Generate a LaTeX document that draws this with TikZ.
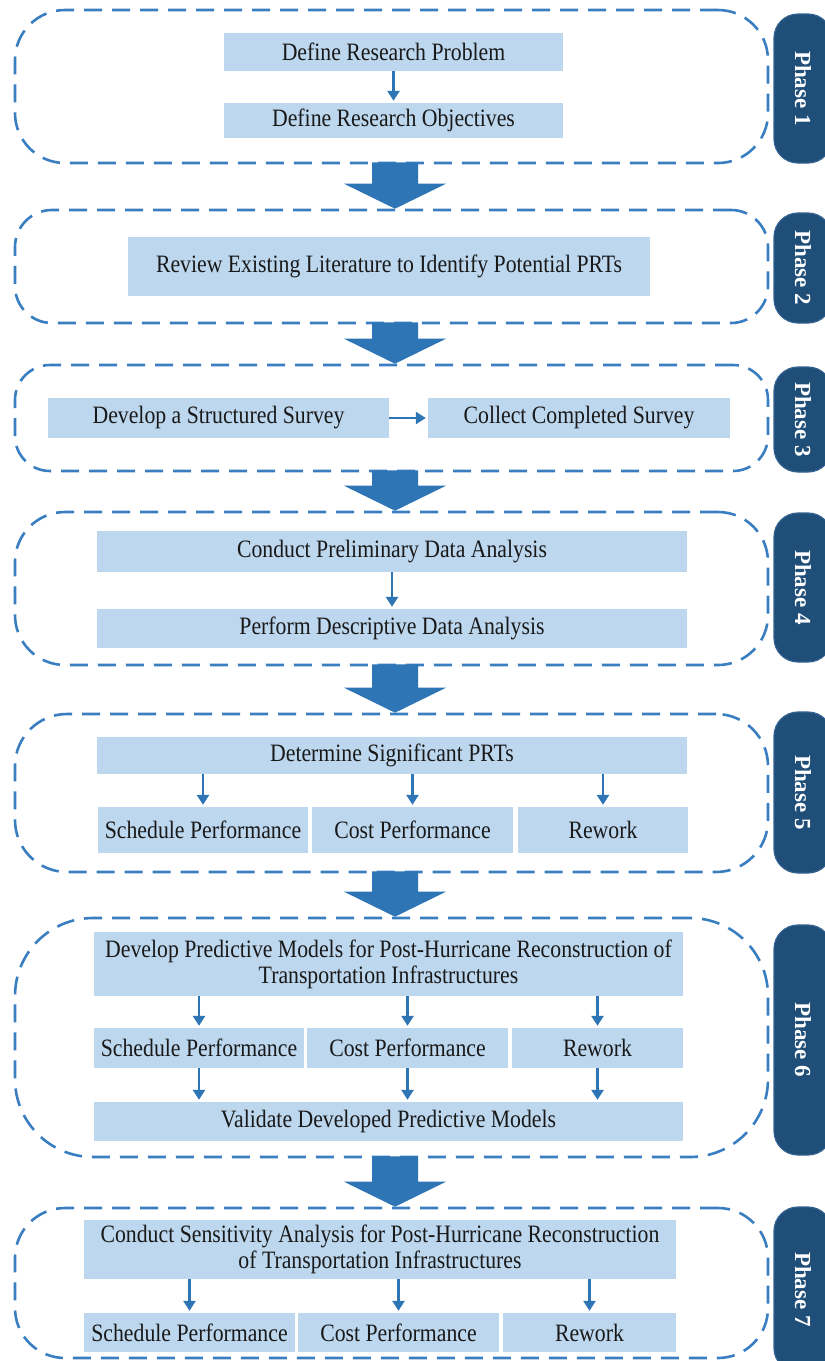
\documentclass[tikz,border=0pt]{standalone}
\usepackage{fontspec}
\setmainfont{Liberation Serif}[FakeStretch=0.87]
\newfontfamily\tabfont{Liberation Serif}
\usetikzlibrary{calc,arrows.meta}

\definecolor{boxblue}{RGB}{189,215,238}
\definecolor{arrowblue}{RGB}{46,117,182}
\definecolor{dashblue}{RGB}{58,126,194}
\definecolor{tabblue}{RGB}{31,78,121}
\definecolor{tabedge}{RGB}{52,98,145}
\definecolor{inktext}{RGB}{25,25,25}

% process step: name, x1, y1, x2, y2, text
\newcommand\stepat[6]{%
  \node[stepbox, minimum width={#4-#2}, minimum height={#5-#3}] (#1)
    at ({(#2+#4)/2},{(#3+#5)/2}) {#6};}
% dashed phase frame: name, x1, y1, x2, y2, corner radius
\newcommand\phaseframe[6]{%
  \node[framebox, rounded corners=#6pt, minimum width={#4-#2}, minimum height={#5-#3}] (#1)
    at ({(#2+#4)/2},{(#3+#5)/2}) {};}
% phase label tab: name, y1, y2, text
\newcommand\phaselabel[4]{%
  \node[tabbox, minimum width={#3-#2}, minimum height=58] (#1)
    at (803,{(#2+#3)/2}) {#4};}
% thick block arrow between two phase frames
\newcommand\blockarrow[2]{%
  \fill[arrowblue] let \p1=(#1.south -| ax), \p2=(#2.north -| ax) in
    (\x1-23pt,\y1+2pt) -- (\x1+23pt,\y1+2pt) -- (\x1+23pt,\y2+25pt)
    -- (\x1+51pt,\y2+25pt) -- (\x1,\y2) -- (\x1-51pt,\y2+25pt)
    -- (\x1-23pt,\y2+25pt) -- cycle;}

\begin{document}
\begin{tikzpicture}[x=1pt,y=-1pt,
  stepbox/.style={fill=boxblue, inner sep=0pt, align=center, text=inktext,
    font=\fontsize{25}{26}\selectfont},
  framebox/.style={draw=dashblue, line width=2.6pt, dash pattern=on 18pt off 10pt,
    inner sep=0pt},
  tabbox/.style={fill=tabblue, draw=tabedge, line width=1.2pt, rounded corners=24pt,
    rotate=-90, inner sep=0pt, text=white,
    font=\tabfont\bfseries\fontsize{23}{23}\selectfont},
  flow/.style={draw=arrowblue, line width=2.6pt, shorten >=2pt,
    -{Triangle[length=10pt,width=12pt]}},
]
\fill[white] (0,0) rectangle (825,1361);
\useasboundingbox (0,0) rectangle (825,1361);
\clip (0,0) rectangle (825,1361);
\coordinate (ax) at (395,0);

% phase frames
\phaseframe{f1}{15}{10}{768}{163}{50}
\phaseframe{f2}{15}{210}{768}{323}{37}
\phaseframe{f3}{15}{365}{768}{471}{35}
\phaseframe{f4}{15}{512}{768}{665}{50}
\phaseframe{f5}{15}{714}{768}{872}{52}
\phaseframe{f6}{15}{918}{768}{1157}{78}
\phaseframe{f7}{15}{1208}{768}{1358}{50}

% phase tabs
\phaselabel{t1}{14}{163}{Phase 1}
\phaselabel{t2}{213}{323}{Phase 2}
\phaselabel{t3}{367}{472}{Phase 3}
\phaselabel{t4}{513}{662}{Phase 4}
\phaselabel{t5}{712}{873}{Phase 5}
\phaselabel{t6}{925}{1155}{Phase 6}
\phaselabel{t7}{1207}{1372}{Phase 7}

% block arrows between phases
\blockarrow{f1}{f2}
\blockarrow{f2}{f3}
\blockarrow{f3}{f4}
\blockarrow{f4}{f5}
\blockarrow{f5}{f6}
\blockarrow{f6}{f7}

% phase 1
\stepat{p1a}{224}{33}{563}{71}{Define Research Problem}
\stepat{p1b}{224}{103}{563}{138}{Define Research Objectives}
\draw[flow] (p1a) -- (p1b);

% phase 2
\stepat{p2a}{128}{237}{650}{296}{Review Existing Literature to Identify Potential PRTs}

% phase 3
\stepat{p3a}{48}{398}{389}{438}{Develop a Structured Survey}
\stepat{p3b}{428}{398}{730}{438}{Collect Completed Survey}
\draw[flow] (p3a) -- (p3b);

% phase 4
\stepat{p4a}{97}{531}{687}{572}{Conduct Preliminary Data Analysis}
\stepat{p4b}{97}{609}{687}{648}{Perform Descriptive Data Analysis}
\draw[flow] (p4a) -- (p4b);

% phase 5
\stepat{p5a}{97}{737}{687}{774}{Determine Significant PRTs}
\stepat{p5s}{98}{807}{308}{853}{Schedule Performance}
\stepat{p5c}{312}{807}{513}{853}{Cost Performance}
\stepat{p5r}{518}{807}{688}{853}{Rework}
\foreach \n in {p5s,p5c,p5r}
  \draw[flow] (p5a.south -| \n.north) -- (\n.north);

% phase 6
\stepat{p6a}{94}{932}{683}{996}{Develop Predictive Models for Post-Hurricane Reconstruction of\\Transportation Infrastructures}
\stepat{p6s}{94}{1028}{304}{1068}{Schedule Performance}
\stepat{p6c}{307}{1028}{508}{1068}{Cost Performance}
\stepat{p6r}{512}{1028}{683}{1068}{Rework}
\stepat{p6v}{94}{1102}{683}{1141}{Validate Developed Predictive Models}
\foreach \n in {p6s,p6c,p6r}{
  \draw[flow] (p6a.south -| \n.north) -- (\n.north);
  \draw[flow] (\n.south) -- (\n.south |- p6v.north);
}

% phase 7
\stepat{p7a}{84}{1220}{676}{1279}{Conduct Sensitivity Analysis for Post-Hurricane Reconstruction\\of Transportation Infrastructures}
\stepat{p7s}{84}{1313}{295}{1352}{Schedule Performance}
\stepat{p7c}{298}{1313}{499}{1352}{Cost Performance}
\stepat{p7r}{503}{1313}{676}{1352}{Rework}
\foreach \n in {p7s,p7c,p7r}
  \draw[flow] (p7a.south -| \n.north) -- (\n.north);
\end{tikzpicture}
\end{document}
